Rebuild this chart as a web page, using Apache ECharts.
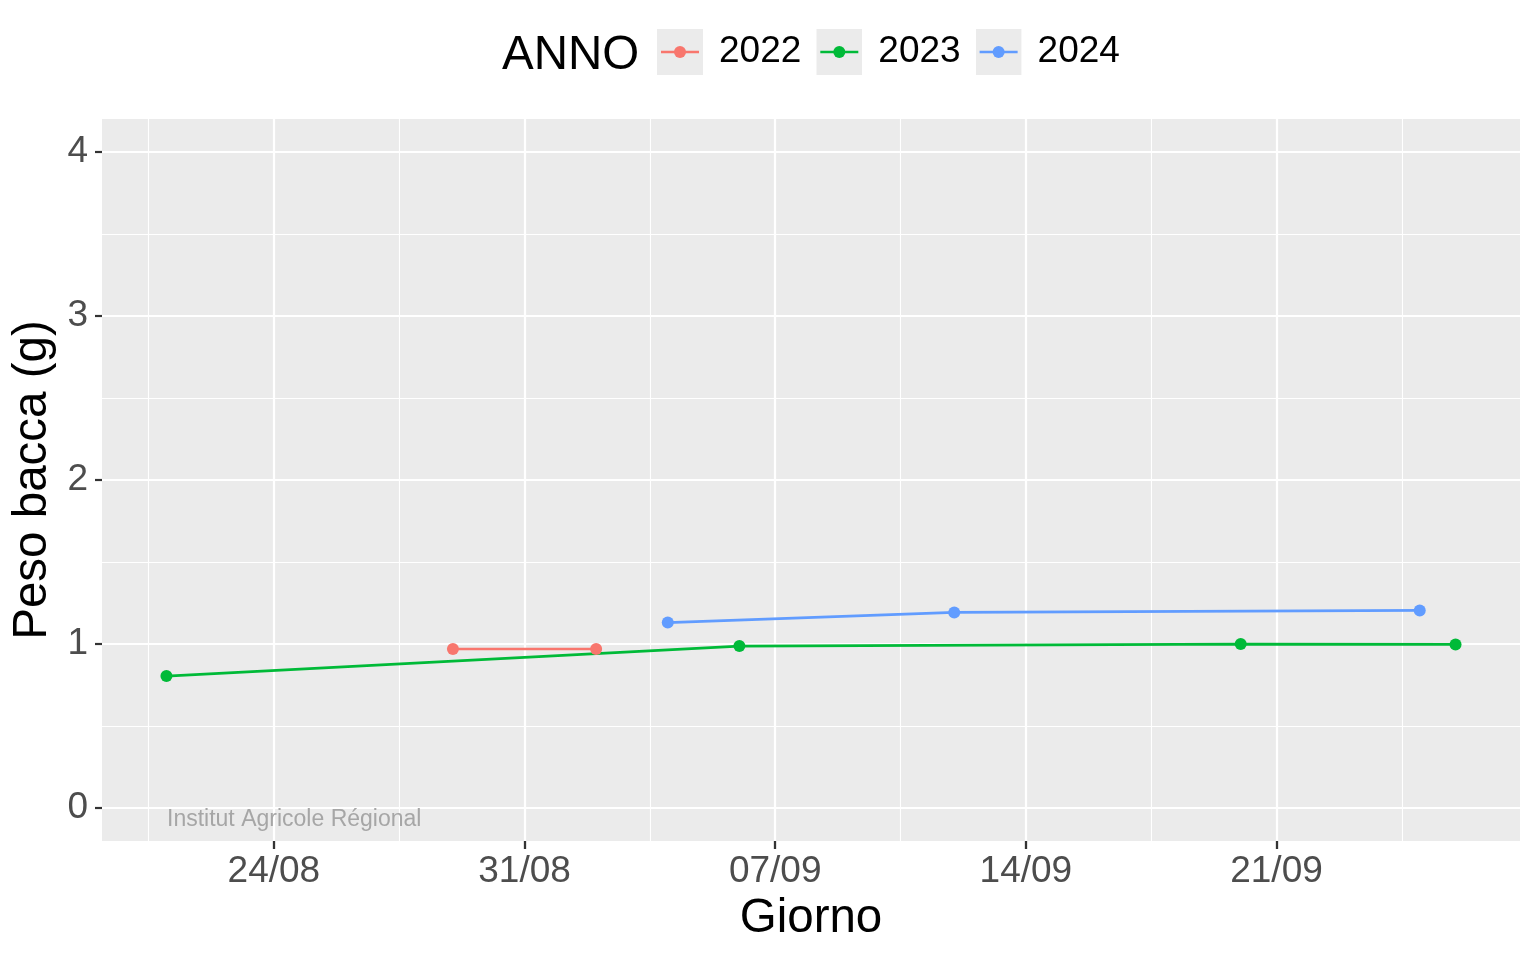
<!DOCTYPE html>
<html>
<head>
<meta charset="utf-8">
<script src="https://cdn.jsdelivr.net/npm/echarts@6/dist/echarts.min.js"></script>
<style>
html,body{margin:0;padding:0;background:#fff;}
#chart{width:1536px;height:960px;}
</style>
</head>
<body>
<div id="chart"></div>
<script>
// ---- data ----
const seriesNames = ['2022', '2023', '2024'];
const dates2022 = ['29/08', '02/09'];
const values2022 = [0.97, 0.97];
const dates2023 = ['21/08', '06/09', '20/09', '26/09'];
const values2023 = [0.805, 0.988, 1.0, 0.998];
const dates2024 = ['04/09', '12/09', '25/09'];
const values2024 = [1.131, 1.193, 1.205];
const xTickLabels = ['24/08', '31/08', '07/09', '14/09', '21/09'];
const yTicks = [0, 1, 2, 3, 4];
const yMinorTicks = [0.5, 1.5, 2.5, 3.5];
const colors = ['#F8766D', '#00BA38', '#619CFF'];

const FONT = '"Liberation Sans", Arial, Helvetica, sans-serif';
const monthStart = [0, 31, 59, 90, 120, 151, 181, 212, 243, 273, 304, 334];
function doy(s) { const p = s.split('/'); return monthStart[+p[1] - 1] + (+p[0]); }
function fmt(v) {
  const d = Math.round(v);
  let m = 11; while (m > 0 && monthStart[m] >= d) m--;
  const day = d - monthStart[m];
  return String(day).padStart(2, '0') + '/' + String(m + 1).padStart(2, '0');
}
const xMajor = xTickLabels.map(doy);
const step = xMajor[1] - xMajor[0];
const xMinor = [xMajor[0] - step / 2].concat(xMajor.map(v => v + step / 2));
const allX = [].concat(dates2022, dates2023, dates2024).map(doy);
const dMin = Math.min(...allX), dMax = Math.max(...allX);
const xMin = dMin - 0.05 * (dMax - dMin), xMax = dMax + 0.05 * (dMax - dMin);

function pairs(ds, vs) { return ds.map((d, i) => [doy(d), vs[i]]); }
const seriesData = [pairs(dates2022, values2022), pairs(dates2023, values2023), pairs(dates2024, values2024)];

function legendIcon(c) {
  const svg = '<svg xmlns="http://www.w3.org/2000/svg" width="46" height="46" viewBox="0 0 46 46">' +
    '<rect width="46" height="46" fill="#EBEBEB"/>' +
    '<line x1="4" y1="23" x2="42" y2="23" stroke="' + c + '" stroke-width="2.7"/>' +
    '<circle cx="23" cy="23" r="6" fill="' + c + '"/></svg>';
  return 'image://data:image/svg+xml;charset=utf-8,' + encodeURIComponent(svg);
}

const chart = echarts.init(document.getElementById('chart'), null, {renderer: 'canvas'});
chart.setOption({
  animation: false,
  backgroundColor: '#fff',
  textStyle: {fontFamily: FONT},
  title: {
    text: 'ANNO', left: 502, top: 32, padding: 0,
    textStyle: {fontSize: 47.5, fontWeight: 'normal', color: '#000', fontFamily: FONT}
  },
  legend: {
    left: 657, top: 29, padding: 0, itemWidth: 46, itemHeight: 46, itemGap: 15,
    data: seriesNames.map((n, i) => ({name: n, icon: legendIcon(colors[i])})),
    textStyle: {fontSize: 37, color: '#000', fontFamily: FONT, padding: [6, 0, 0, 11]}
  },
  grid: {left: 102, right: 16, top: 119, bottom: 119, show: true, backgroundColor: '#EBEBEB', borderWidth: 0},
  xAxis: [{
    type: 'value', min: xMin, max: xMax, position: 'bottom',
    axisLine: {show: false, onZero: false},
    axisTick: {show: true, inside: false, length: 8, lineStyle: {color: '#333333', width: 2.3}, customValues: xMajor},
    axisLabel: {customValues: xMajor, formatter: v => fmt(v), fontSize: 37, color: '#4D4D4D', margin: 12, fontFamily: FONT},
    splitLine: {show: true, lineStyle: {color: '#FFFFFF', width: 2.2}},
    name: 'Giorno', nameLocation: 'middle', nameGap: 54,
    nameTextStyle: {fontSize: 47.5, color: '#000', fontFamily: FONT}
  }, {
    type: 'value', min: xMin, max: xMax, position: 'top',
    axisLine: {show: false, onZero: false},
    axisTick: {show: false, customValues: xMinor},
    axisLabel: {show: false, customValues: xMinor},
    splitLine: {show: true, lineStyle: {color: '#FFFFFF', width: 1.1}}
  }],
  yAxis: [{
    type: 'value', min: -0.2, max: 4.2, position: 'left',
    axisLine: {show: false, onZero: false},
    axisTick: {show: true, inside: false, length: 7, lineStyle: {color: '#333333', width: 2.2}, customValues: yTicks},
    axisLabel: {customValues: yTicks, fontSize: 37, color: '#4D4D4D', margin: 14, fontFamily: FONT, padding: [5, 0, 0, 0]},
    splitLine: {show: true, lineStyle: {color: '#FFFFFF', width: 2.2}},
    name: 'Peso bacca (g)', nameLocation: 'middle', nameGap: 43,
    nameTextStyle: {fontSize: 47.5, color: '#000', fontFamily: FONT}
  }, {
    type: 'value', min: -0.2, max: 4.2, position: 'right',
    axisLine: {show: false, onZero: false},
    axisTick: {show: false, customValues: yMinorTicks},
    axisLabel: {show: false, customValues: yMinorTicks},
    splitLine: {show: true, lineStyle: {color: '#FFFFFF', width: 1.1}}
  }],
  graphic: [{
    type: 'text', left: 167, top: 808, z: 10,
    style: {text: 'Institut Agricole Régional', fontSize: 23, fill: '#A6A6A6', fontFamily: FONT}
  }],
  series: seriesNames.map((n, i) => ({
    name: n, type: 'line', xAxisIndex: 0, yAxisIndex: 0,
    data: seriesData[i], color: colors[i],
    symbol: 'circle', symbolSize: 12, showSymbol: true,
    lineStyle: {width: 2.7, color: colors[i]},
    itemStyle: {color: colors[i]},
    emphasis: {disabled: true}, z: 3
  }))
});
</script>
</body>
</html>
